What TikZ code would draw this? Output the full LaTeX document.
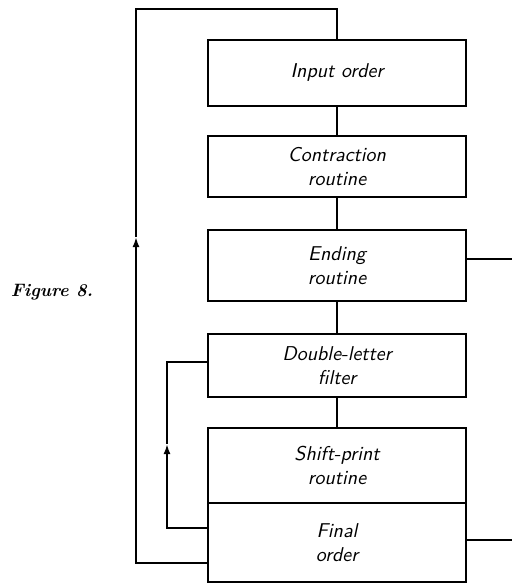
\documentclass[tikz,border=0pt]{standalone}
\usetikzlibrary{arrows.meta, positioning}

\tikzset{
  blk/.style={draw, line width=1.3pt, minimum width=129pt, inner sep=0pt,
    align=center, font=\sffamily\itshape\normalsize},
  wire/.style={line width=1.1pt},
  uptip/.style={-{Latex[length=5pt, width=3.5pt]}}
}

\begin{document}
\begin{tikzpicture}[x=0.5pt, y=-0.5pt]
\useasboundingbox (0,0) rectangle (512,583);

% Blocks, top to bottom
\node[blk, minimum height=33pt]   (inp) at (337,73)    {Input order};
\node[blk, minimum height=30.5pt] (con) at (337,166.5) {Contraction\\routine};
\node[blk, minimum height=35.5pt] (end) at (337,265.5) {Ending\\routine};
\node[blk, minimum height=31.5pt] (dbl) at (337,365.5) {Double-letter\\filter};
\node[blk, minimum height=37.5pt] (shp) at (337,465.5) {Shift-print\\routine};
\node[blk, minimum height=39.5pt] (fin) at (337,542.5) {Final\\order};

% Caption
\node[font=\rmfamily\itshape\bfseries\small] (fig) at (52,292) {Figure 8.};

% Main chain
\draw[wire] (inp) -- (con);
\draw[wire] (con) -- (end);
\draw[wire] (end) -- (dbl);
\draw[wire] (dbl) -- (shp);

% Outer loop back to the input order
\coordinate (otop) at (337,9);
\coordinate (omid) at (136,237);
\draw[wire, uptip] ([yshift=-10.25pt]fin.west) -| (omid);
\draw[wire] (omid) |- (otop) -- (inp.north);

% Inner loop back to the double-letter filter
\coordinate (imid) at (167,444);
\draw[wire, uptip] ([yshift=7.25pt]fin.west) -| (imid);
\draw[wire] (imid) |- ([yshift=1.75pt]dbl.west);

% Exits to the right
\coordinate (eout) at (512,259);
\coordinate (fout) at (512,540);
\draw[wire] (eout -| end.east) -- (eout);
\draw[wire] (fout -| fin.east) -- (fout);

\end{tikzpicture}
\end{document}
